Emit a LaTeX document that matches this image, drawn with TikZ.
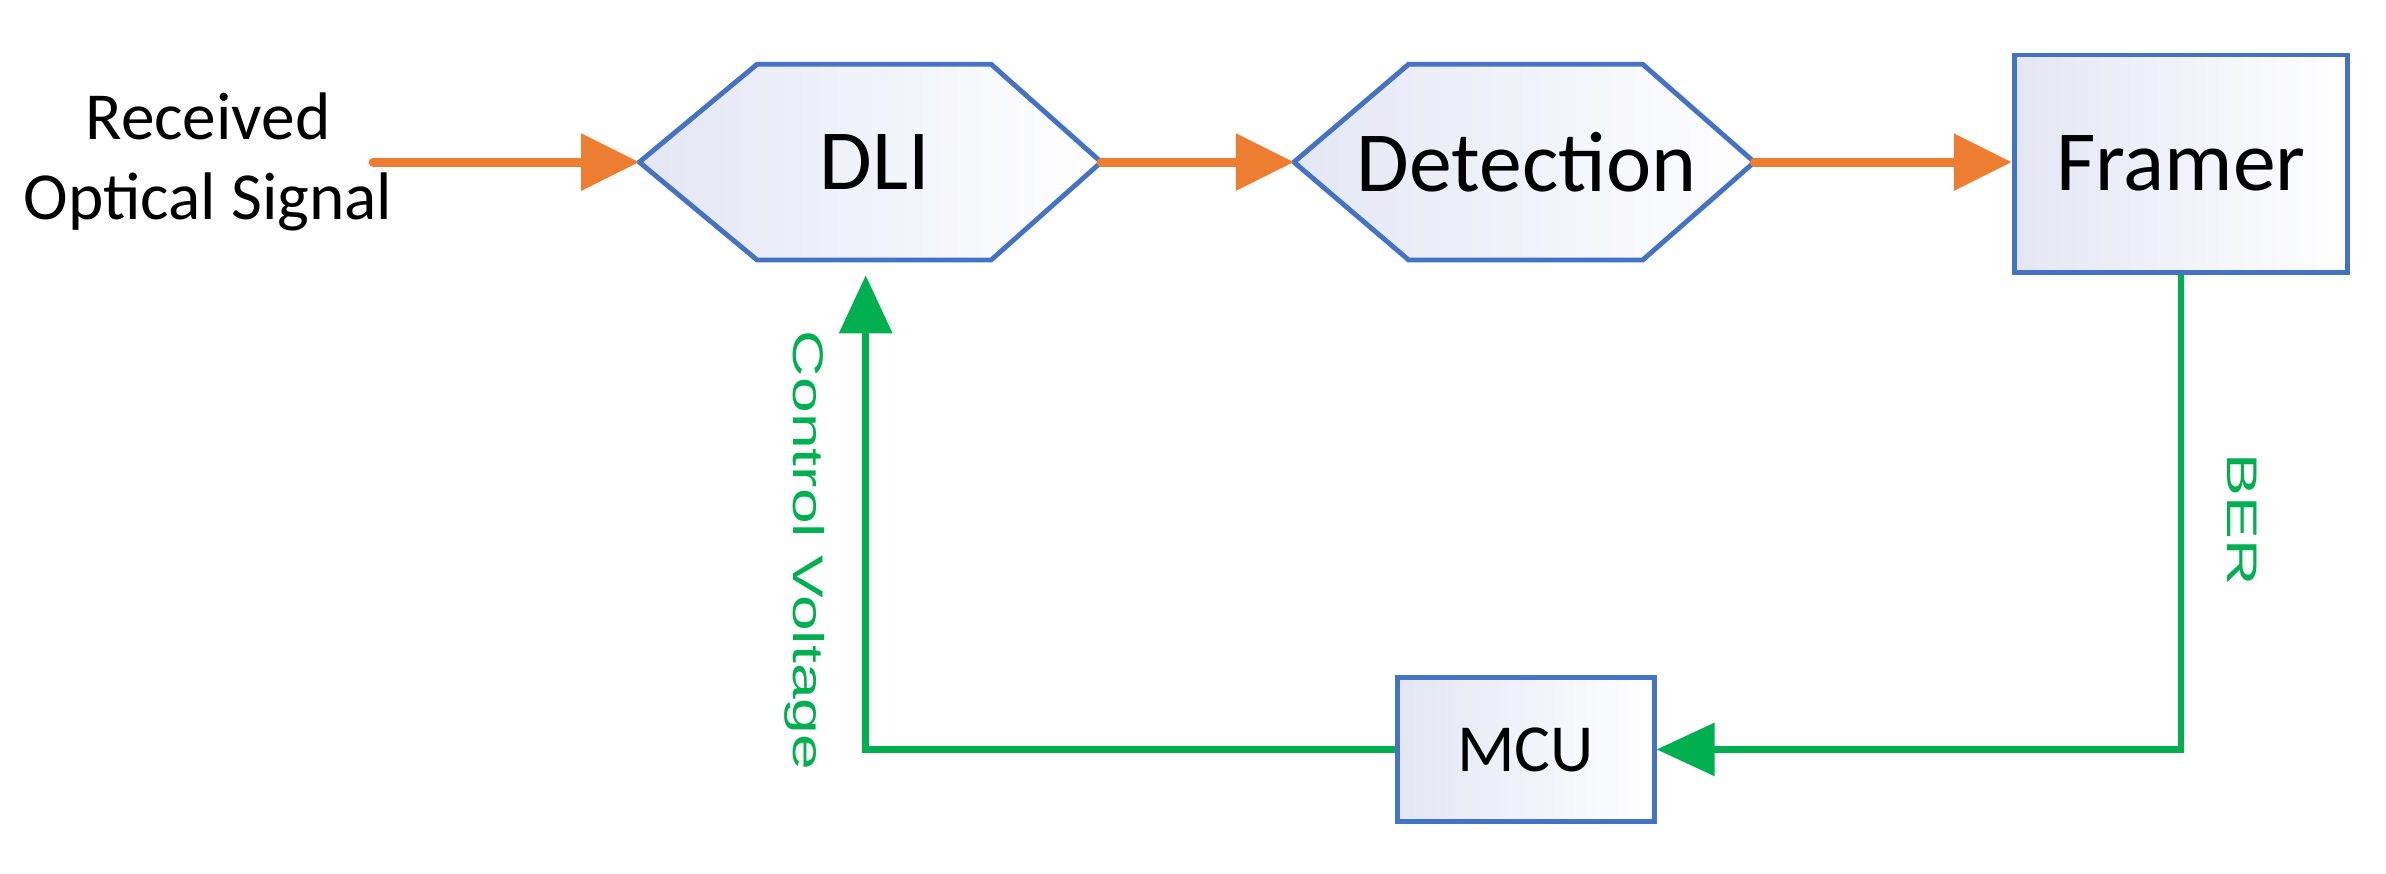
\documentclass[tikz,border=0pt]{standalone}
\usepackage{fontspec}
\setmainfont{Carlito}
\newfontfamily\lab{Liberation Sans}
\usetikzlibrary{arrows.meta,calc}
\definecolor{bl}{HTML}{4472C4}
\definecolor{org}{HTML}{ED7D31}
\definecolor{grn}{HTML}{00B050}
\definecolor{lav}{HTML}{E4E6F4}
\tikzset{
 box/.style={draw=bl,line width=1.6pt,left color=lav,right color=white,inner sep=0pt},
 hexfill/.style={draw=bl,line width=1.6pt,left color=lav,right color=white,line join=miter},
 oar/.style={draw=org,line width=3pt,line cap=round,-{Triangle[length=19pt,width=18pt]}},
 gar/.style={draw=grn,line width=2.2pt,-{Triangle[length=19pt,width=17pt]}},
 glab/.style={text=grn,font=\lab\fontsize{14}{14}\selectfont,yscale=1.5},
}
\begin{document}
\begin{tikzpicture}[x=0.5pt,y=-0.5pt]
\useasboundingbox (0,0) rectangle (1560,571);
% hexagons
\coordinate (dl) at (418,106); \coordinate (dr) at (720,106);
\path[hexfill] (dl) -- (495,42) -- (648,42) -- (dr) -- (648,170) -- (495,170) -- cycle;
\node[font=\fontsize{28}{28}\selectfont] (DLI) at (572,106) {DLI};
\coordinate (el) at (846,106); \coordinate (er) at (1147,106);
\path[hexfill] (el) -- (921,42) -- (1074,42) -- (er) -- (1074,170) -- (921,170) -- cycle;
\node[font=\fontsize{28}{28}\selectfont] (DET) at (998,106) {Detection};
\node[box,minimum width=109pt,minimum height=71pt,font=\fontsize{28}{28}\selectfont] (FR) at (1426,107) {Framer};
\node[box,minimum width=84pt,minimum height=47pt,font=\fontsize{22}{22}\selectfont] (MCU) at (997.5,490) {MCU};
\node[align=center,font=\fontsize{22}{26}\selectfont] (rx) at (136,106) {Received\\Optical Signal};
\coordinate (in) at (244,106);
\coordinate (dlb) at (566,180);
\coordinate (c1) at (566,490);
\coordinate (c2) at (1426,490);
\draw[oar] (in) -- (dl);
\draw[oar] (dr) -- (el);
\draw[oar] (er) -- (FR.west |- er);
\draw[gar] (FR.south) -- (c2) -- (MCU.east);
\draw[gar] (MCU.west) -- (c1) -- (dlb);
\node[glab,rotate=-90] (cv) at (526,360) {Control Voltage};
\node[glab,rotate=-90] (ber) at (1466,340) {BER};
\end{tikzpicture}
\end{document}
